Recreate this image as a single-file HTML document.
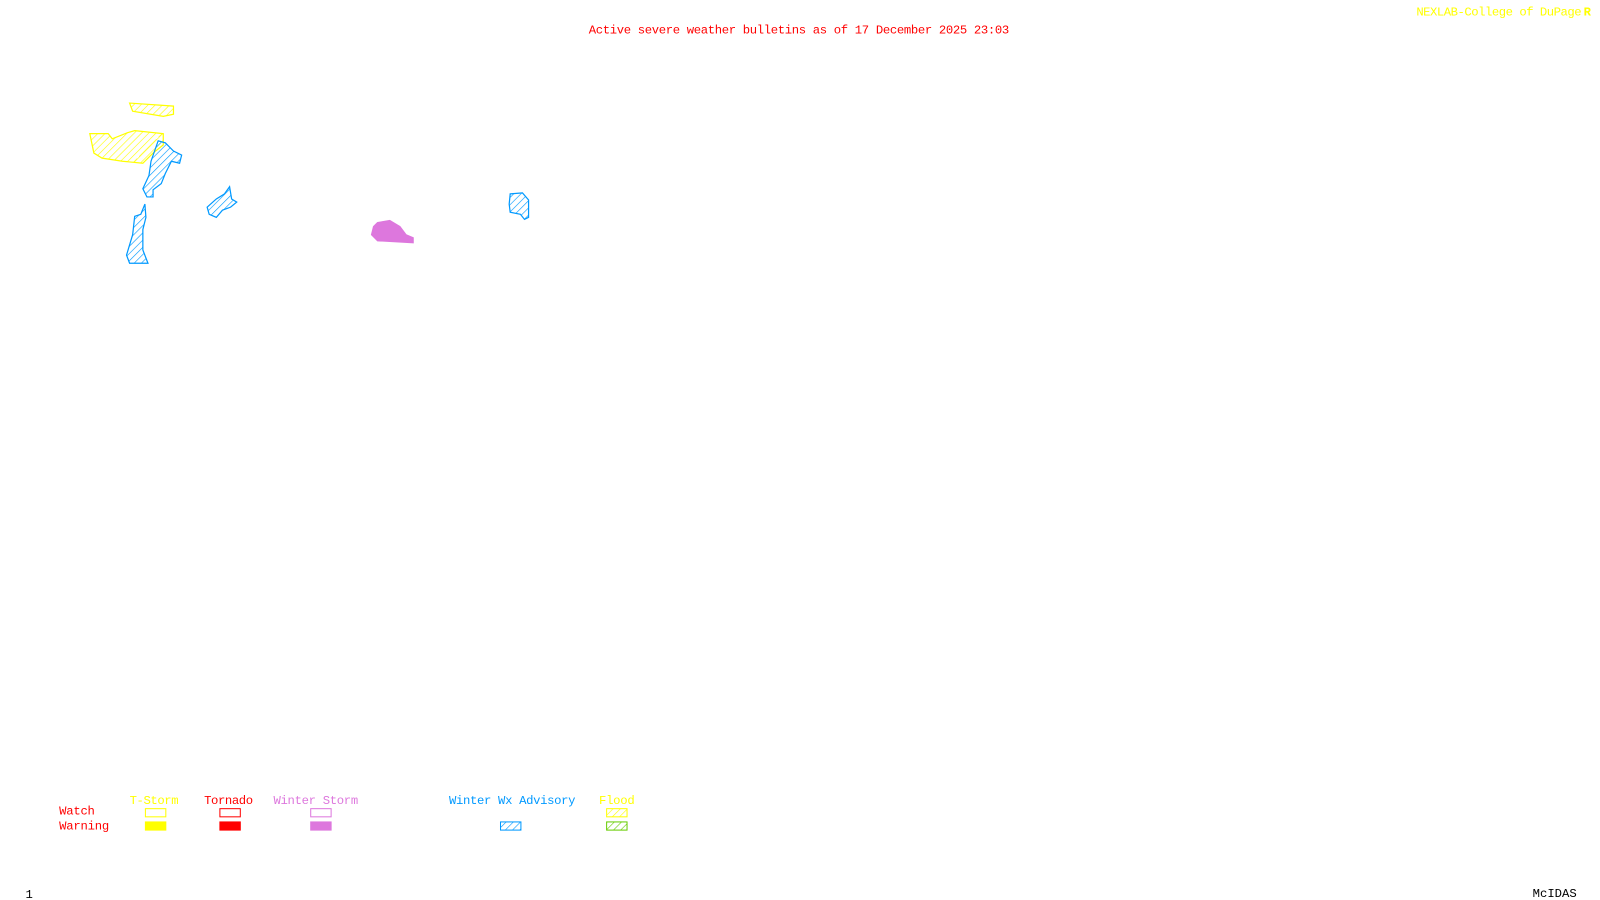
<!DOCTYPE html>
<html><head><meta charset="utf-8"><style>
html,body{margin:0;padding:0;background:#fff;width:1600px;height:900px;overflow:hidden}
svg{display:block}
text{font-family:"Liberation Mono",monospace;font-size:12px}
</style></head><body>
<svg width="1600" height="900" viewBox="0 0 1600 900" xmlns="http://www.w3.org/2000/svg">
<defs>
<pattern id="hy" width="5" height="5" patternUnits="userSpaceOnUse" patternTransform="rotate(45)"><line x1="0" y1="0" x2="0" y2="5" stroke="#ffff00" stroke-width="1.2"/></pattern>
<pattern id="hb" width="5" height="5" patternUnits="userSpaceOnUse" patternTransform="rotate(45)"><line x1="0" y1="0" x2="0" y2="5" stroke="#0099ff" stroke-width="1.2"/></pattern>
<pattern id="hg" width="5" height="5" patternUnits="userSpaceOnUse" patternTransform="rotate(45)"><line x1="0" y1="0" x2="0" y2="5" stroke="#66cc00" stroke-width="1.2"/></pattern>
</defs>
<g transform="scale(1.0204)">
<text x="783" y="33" fill="#ff0000" text-anchor="middle" textLength="412">Active severe weather bulletins as of 17 December 2025 23:03</text>
<text x="1388" y="15" fill="#ffff00" textLength="162">NEXLAB-College of DuPage</text>
<text x="1552" y="15" fill="#ffff00" font-weight="bold">R</text>
<g fill="url(#hy)" stroke="#ffff00" stroke-width="1.2">
<polygon points="127,101 170,104 170,112 160,114 130,109"/>
<polygon points="88,131 106,131 110,136 125,130 132,128 160,131 160,142 150,150 140,160 120,158 100,155 92,150"/>
</g>
<g fill="url(#hb)" stroke="#0099ff" stroke-width="1.2">
<polygon points="155,138 162,140 170,148 178,152 176,160 168,158 162,170 158,180 150,186 150,193 144,193 140,185 146,172 148,158"/>
<polygon points="142,200 143,213 140,225 140,245 145,258 127,258 124,250 130,230 132,212 138,210"/>
<polygon points="225,183 227,195 232,198 226,203 218,206 212,213 205,210 203,203 212,195 220,190"/>
<polygon points="500,190 512,189 518,196 518,213 514,215 510,210 500,208 499,200"/>
</g>
<polygon points="370,218 382,216 392,222 398,230 405,233 405,238 370,236 364,230 366,222" fill="#dd77dd" stroke="#dd77dd"/>
<text x="127" y="788" fill="#ffff00" textLength="48">T-Storm</text>
<text x="200" y="788" fill="#ff0000" textLength="48">Tornado</text>
<text x="268" y="788" fill="#dd77dd" textLength="83">Winter Storm</text>
<text x="440" y="788" fill="#0099ff" textLength="124">Winter Wx Advisory</text>
<text x="587" y="788" fill="#ffff00" textLength="35">Flood</text>
<text x="58" y="798" fill="#ff0000" textLength="35">Watch</text>
<text x="58" y="813" fill="#ff0000" textLength="49">Warning</text>
<rect x="142.5" y="792.5" width="20" height="8" fill="none" stroke="#ffff00"/>
<rect x="142" y="805" width="21" height="9" fill="#ffff00"/>
<rect x="215.5" y="792.5" width="20" height="8" fill="none" stroke="#ff0000"/>
<rect x="215" y="805" width="21" height="9" fill="#ff0000"/>
<rect x="304.5" y="792.5" width="20" height="8" fill="none" stroke="#dd77dd"/>
<rect x="304" y="805" width="21" height="9" fill="#dd77dd"/>
<rect x="490.5" y="805.5" width="20" height="8" fill="url(#hb)" stroke="#0099ff"/>
<rect x="594.5" y="792.5" width="20" height="8" fill="url(#hy)" stroke="#ffff00"/>
<rect x="594.5" y="805.5" width="20" height="8" fill="url(#hg)" stroke="#66cc00"/>
<text x="25" y="880" fill="#000" font-size="10">1</text>
<text x="1502" y="879" fill="#000" font-size="11">McIDAS</text>
</g>
</svg>
</body></html>
